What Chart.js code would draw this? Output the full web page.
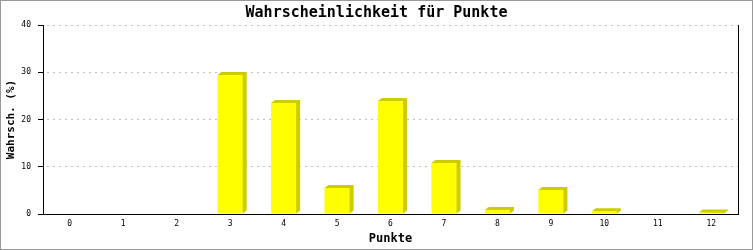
<!DOCTYPE html>
<html lang="de">
<head>
    <meta charset="UTF-8">
    <title>Wahrscheinlichkeit für Punkte</title>
    <style>
        body {
            margin: 0;
            background-color: #fff;
        }
        canvas {
            display: block;
        }
    </style>
</head>
<body>
    <canvas id="chart" width="753" height="250"></canvas>

    <script src="https://cdn.jsdelivr.net/npm/chart.js"></script>
    <script>
        // Data
        const punkte = ['0', '1', '2', '3', '4', '5', '6', '7', '8', '9', '10', '11', '12'];
        const wahrscheinlichkeit = [0, 0, 0, 29.4, 23.5, 5.5, 23.9, 10.8, 0.85, 5.1, 0.6, 0, 0.3];
        const yTicks = [0, 10, 20, 30, 40];

        const mono = "'DejaVu Sans Mono', 'Liberation Mono', monospace";

        // darker extrusion behind each bar, and the grey frame
        const barShadow = {
            id: 'barShadow',
            beforeDatasetsDraw(chart) {
                const ctx = chart.ctx;
                const meta = chart.getDatasetMeta(0);
                ctx.save();
                ctx.fillStyle = '#cccc00';
                meta.data.forEach(bar => {
                    if (bar.base - bar.y < 0.5) return;
                    const x1 = bar.x - bar.width / 2;
                    const x2 = bar.x + bar.width / 2;
                    const dx = 4, dy = 3;
                    ctx.beginPath();
                    ctx.moveTo(x1, bar.y);
                    ctx.lineTo(x1 + dx, bar.y - dy);
                    ctx.lineTo(x2 + dx, bar.y - dy);
                    ctx.lineTo(x2 + dx, bar.base - dy);
                    ctx.lineTo(x2, bar.base);
                    ctx.closePath();
                    ctx.fill();
                });
                ctx.restore();
            },
            afterDraw(chart) {
                const ctx = chart.ctx;
                ctx.save();
                ctx.strokeStyle = '#999';
                ctx.lineWidth = 1;
                ctx.strokeRect(0.5, 0.5, chart.width - 1, chart.height - 1);
                ctx.restore();
            }
        };

        new Chart(document.getElementById('chart'), {
            type: 'bar',
            data: {
                labels: punkte,
                datasets: [{
                    data: wahrscheinlichkeit,
                    backgroundColor: '#ffff00',
                    borderWidth: 0,
                    barPercentage: 0.47,
                    categoryPercentage: 1.0
                }]
            },
            options: {
                responsive: false,
                animation: false,
                layout: {
                    padding: 0
                },
                plugins: {
                    legend: { display: false },
                    tooltip: { enabled: false },
                    title: {
                        display: true,
                        text: 'Wahrscheinlichkeit für Punkte',
                        color: '#000',
                        font: { family: mono, size: 15, weight: 'bold', lineHeight: 1.2 },
                        padding: { top: 4.5, bottom: 2.5 }
                    }
                },
                scales: {
                    x: {
                        grid: { display: false, drawTicks: false },
                        border: { color: '#000', width: 1 },
                        ticks: {
                            color: '#000',
                            font: { family: mono, size: 8 },
                            padding: 5,
                            maxRotation: 0,
                            autoSkip: false
                        },
                        title: {
                            display: true,
                            text: 'Punkte',
                            color: '#000',
                            font: { family: mono, size: 12, weight: 'bold', lineHeight: 1.2 },
                            padding: { top: 0, bottom: 3.8 }
                        },
                        afterFit(scale) { scale.height = 36; }
                    },
                    y: {
                        min: 0,
                        max: 40,
                        afterBuildTicks(scale) {
                            scale.ticks = yTicks.map(v => ({ value: v }));
                        },
                        grid: {
                            color: c => c.tick && c.tick.value === 0 ? 'rgba(0,0,0,0)' : '#c0c0c0',
                            tickColor: '#000',
                            tickLength: 5,
                            lineWidth: 1
                        },
                        border: { color: '#000', width: 1, dash: [2, 4], dashOffset: -3 },
                        ticks: {
                            color: '#000',
                            font: { family: mono, size: 8 },
                            padding: 7
                        },
                        title: {
                            display: true,
                            text: 'Wahrsch. (%)',
                            color: '#000',
                            font: { family: mono, size: 11, weight: 'bold', lineHeight: 1.2 },
                            padding: { top: 4.4, bottom: 0 }
                        },
                        afterFit(scale) { scale.width = 43; }
                    },
                    // right-hand frame line of the plot area
                    y2: {
                        position: 'right',
                        min: 0,
                        max: 40,
                        grid: { display: false, drawTicks: false },
                        ticks: { display: false },
                        border: { display: true, color: '#000', width: 1 },
                        afterFit(scale) { scale.width = 15; }
                    }
                }
            },
            plugins: [barShadow]
        });
    </script>
</body>
</html>
